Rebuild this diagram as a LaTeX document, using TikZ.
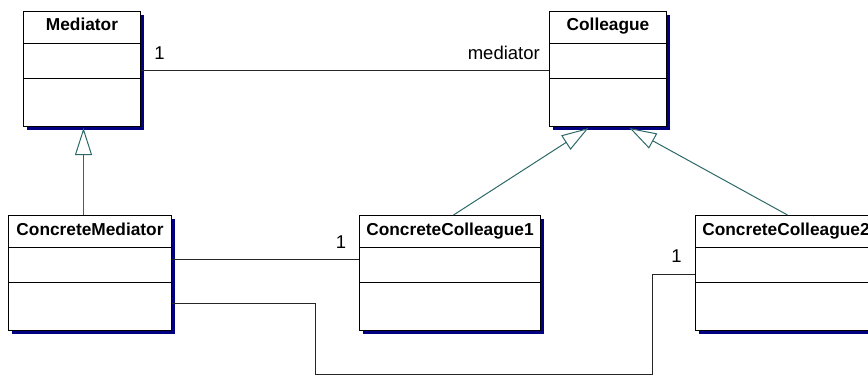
\documentclass[tikz,border=0pt]{standalone}
\usepackage{fontspec}
\setmainfont{Liberation Sans}
\usetikzlibrary{arrows.meta,shadows}
\definecolor{umlnavy}{RGB}{0,0,128}
\definecolor{genteal}{RGB}{45,105,105}
\begin{document}
\begin{tikzpicture}[x=1pt,y=-1pt,
  classbox/.style={draw=black, line width=1pt, fill=white, inner sep=0pt,
    anchor=north west, minimum height=115pt,
    drop shadow={shadow xshift=3.5pt, shadow yshift=-3pt, fill=umlnavy, opacity=1}},
  divider/.style={draw=black, line width=1pt},
  title/.style={font=\fontsize{17.3}{20}\selectfont\bfseries, inner sep=0pt, anchor=base},
  mult/.style={font=\fontsize{18.5}{21}\selectfont, inner sep=0pt},
  assoc/.style={draw=black!85, line width=1pt},
  gen/.style={draw=genteal, line width=1pt,
    -{Triangle[length=27pt, width=17pt, fill=white]}},
]
\useasboundingbox (0,0) rectangle (868,376);
\clip (0,0) rectangle (868,376);

% class boxes
\node[classbox, minimum width=117pt] (med)  at (23,11)  {};
\node[classbox, minimum width=117pt] (col)  at (549,11) {};
\node[classbox, minimum width=163pt] (cmed) at (8,215)  {};
\node[classbox, minimum width=181pt] (cc1)  at (359,215) {};
\node[classbox, minimum width=181pt] (cc2)  at (695,215) {};

% compartment dividers
\foreach \c in {med,col,cmed,cc1,cc2} {
  \draw[divider] ([yshift=-32.5pt]\c.north west) -- ([yshift=-32.5pt]\c.north east);
  \draw[divider] ([yshift=-67.5pt]\c.north west) -- ([yshift=-67.5pt]\c.north east);
}

% class names
\node[title] (med-t)  at ([yshift=-19.5pt]med.north)  {Mediator};
\node[title] (col-t)  at ([yshift=-19.5pt]col.north)  {Colleague};
\node[title] (cmed-t) at ([yshift=-20pt]cmed.north)   {ConcreteMediator};
\node[title] (cc1-t)  at ([yshift=-20pt]cc1.north)    {ConcreteColleague1};
\node[title] (cc2-t)  at ([yshift=-20pt]cc2.north)    {ConcreteColleague2};

% associations
\draw[assoc] ([yshift=-59pt]med.north east) -- ([yshift=-59pt]col.north west);
\draw[assoc] ([yshift=-44pt]cmed.north east) -- ([yshift=-44pt]cc1.north west);
\coordinate (b1) at (315,374);
\coordinate (b2) at (652,374);
\draw[assoc] ([yshift=-88pt]cmed.north east) -| (b1) -- (b2)
  |- ([yshift=-59pt]cc2.north west);

% multiplicities and role
\node[mult] (m1) at (159.5,53.5) {1};
\node[mult, anchor=base east] (m2) at (540,59.5) {mediator};
\node[mult] (m3) at (341,242) {1};
\node[mult] (m4) at (676.5,256.5) {1};

% generalizations
\draw[gen] ([xshift=1.5pt]med.south |- cmed.north) -- ([xshift=1.5pt,yshift=-1pt]med.south);
\draw[gen] ([xshift=3.5pt]cc1.north) -- ([xshift=-19.5pt,yshift=-1pt]col.south);
\draw[gen] ([xshift=1.5pt]cc2.north) -- ([xshift=21.5pt,yshift=-1pt]col.south);
\end{tikzpicture}
\end{document}
